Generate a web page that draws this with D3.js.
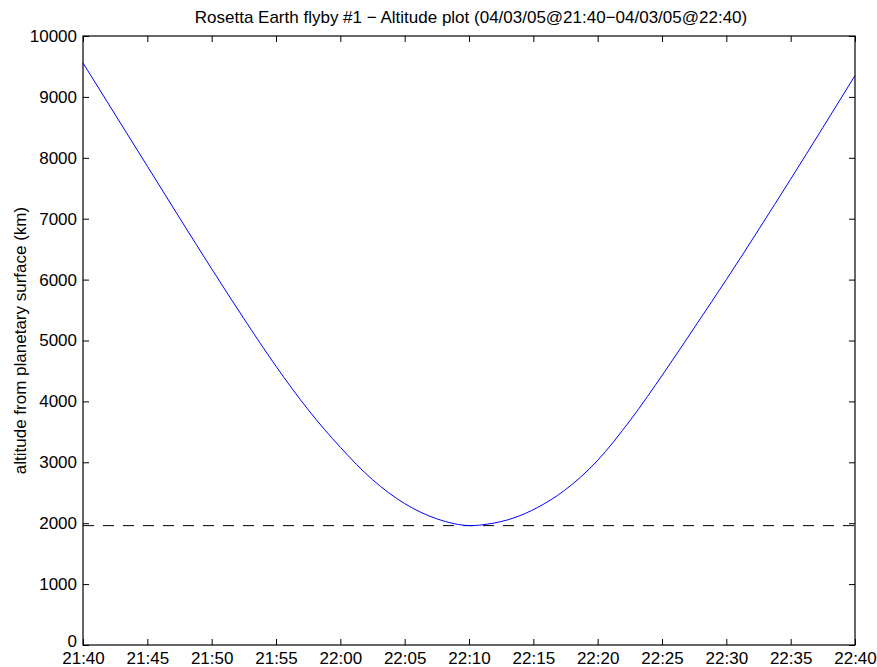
<!DOCTYPE html>
<html>
<head>
<meta charset="utf-8">
<script src="https://cdn.jsdelivr.net/npm/d3@7"></script>
<style>
  html, body { margin: 0; padding: 0; background: #fff; }
  svg { display: block; }
  text { font-family: "Liberation Sans", Arial, Helvetica, sans-serif; fill: #000; }
</style>
</head>
<body>
<svg id="chart" width="877" height="667"></svg>
<script>
// Altitude of the spacecraft above the Earth's surface (km) during the flyby
const sampleTimes = [
  "21:40:00", "21:45:00", "21:50:00", "21:52:30", "21:55:00", "21:57:30",
  "22:00:00", "22:02:30", "22:05:00", "22:07:30", "22:10:12", "22:11:25",
  "22:13:30", "22:15:18", "22:17:24", "22:19:58", "22:22:34", "22:25:09",
  "22:27:44", "22:30:00", "22:35:00", "22:40:00"
];
const altitudeKm = [
  9557, 7862, 6177, 5360, 4577, 3864,
  3247, 2715, 2322, 2072, 1960, 1984,
  2088, 2255, 2535, 3025, 3700, 4470,
  5281, 6000, 7650, 9350
];
const yTickValues = [0, 1000, 2000, 3000, 4000, 5000, 6000, 7000, 8000, 9000, 10000];
const startTime = "21:40:00";
const endTime = "22:40:00";
const titleText = "Rosetta Earth flyby #1 \u2212 Altitude plot (04/03/05@21:40\u221204/03/05@22:40)";
const yLabelText = "altitude from planetary surface (km)";

const parseTime = d3.timeParse("%Y-%m-%d %H:%M:%S");
const toDate = s => parseTime("2005-03-04 " + s);

const data = sampleTimes.map((t, i) => ({ t: toDate(t), h: altitudeKm[i] }));
const minAltitude = d3.min(altitudeKm);

const plotLeft = 83, plotRight = 855, plotTop = 36, plotBottom = 645;
const svg = d3.select("#chart");

const x = d3.scaleTime().domain([toDate(startTime), toDate(endTime)]).range([plotLeft, plotRight]);
const y = d3.scaleLinear().domain([0, 10000]).range([plotBottom, plotTop]);

const fontSize = 17;
const tickLen = 6;
const xTicks = d3.timeMinute.every(5);
const fontStack = '"Liberation Sans", Arial, Helvetica, sans-serif';

// Axes on all four sides, ticks pointing inward
const gx = svg.append("g").attr("transform", `translate(0,${plotBottom})`)
  .call(d3.axisBottom(x).ticks(xTicks).tickFormat(d3.timeFormat("%H:%M"))
    .tickSizeInner(-tickLen).tickSizeOuter(0).tickPadding(7));
const gxTop = svg.append("g").attr("transform", `translate(0,${plotTop})`)
  .call(d3.axisTop(x).ticks(xTicks).tickFormat("").tickSizeInner(-tickLen).tickSizeOuter(0));
const gy = svg.append("g").attr("transform", `translate(${plotLeft},0)`)
  .call(d3.axisLeft(y).tickValues(yTickValues).tickFormat(d3.format("d"))
    .tickSizeInner(-tickLen).tickSizeOuter(0).tickPadding(6));
const gyRight = svg.append("g").attr("transform", `translate(${plotRight},0)`)
  .call(d3.axisRight(y).tickValues(yTickValues).tickFormat("").tickSizeInner(-tickLen).tickSizeOuter(0));

[gx, gxTop, gy, gyRight].forEach(g => {
  g.select(".domain").remove();
  g.selectAll(".tick line").attr("stroke", "#000").attr("stroke-width", 1);
  g.selectAll("text").attr("font-size", fontSize).attr("fill", "#000")
    .style("font-family", fontStack);
});
gx.selectAll("text").attr("dy", "0.71em");
// the zero label sits a little above the corner, clear of the time labels
gy.selectAll(".tick").filter(d => d === 0).select("text").attr("dy", "0.1em");

// Periapsis altitude reference line
svg.append("line")
  .attr("x1", plotLeft).attr("x2", plotRight)
  .attr("y1", y(minAltitude)).attr("y2", y(minAltitude))
  .attr("stroke", "#000").attr("stroke-width", 1)
  .attr("stroke-dasharray", "11,9");

// Altitude trace
svg.append("path")
  .datum(data)
  .attr("fill", "none")
  .attr("stroke", "#0000ff")
  .attr("stroke-width", 1)
  .attr("d", d3.line().x(d => x(d.t)).y(d => y(d.h)).curve(d3.curveMonotoneX));

// Plot box
svg.append("rect")
  .attr("x", plotLeft).attr("y", plotTop)
  .attr("width", plotRight - plotLeft).attr("height", plotBottom - plotTop)
  .attr("fill", "none").attr("stroke", "#000").attr("stroke-width", 1.2);

// Title
svg.append("text")
  .attr("x", (plotLeft + plotRight) / 2 + 2).attr("y", 23)
  .attr("text-anchor", "middle").attr("font-size", fontSize)
  .text(titleText);

// Y axis label
svg.append("text")
  .attr("transform", `translate(26,${(plotTop + plotBottom) / 2}) rotate(-90)`)
  .attr("text-anchor", "middle").attr("font-size", fontSize)
  .text(yLabelText);
</script>
</body>
</html>
